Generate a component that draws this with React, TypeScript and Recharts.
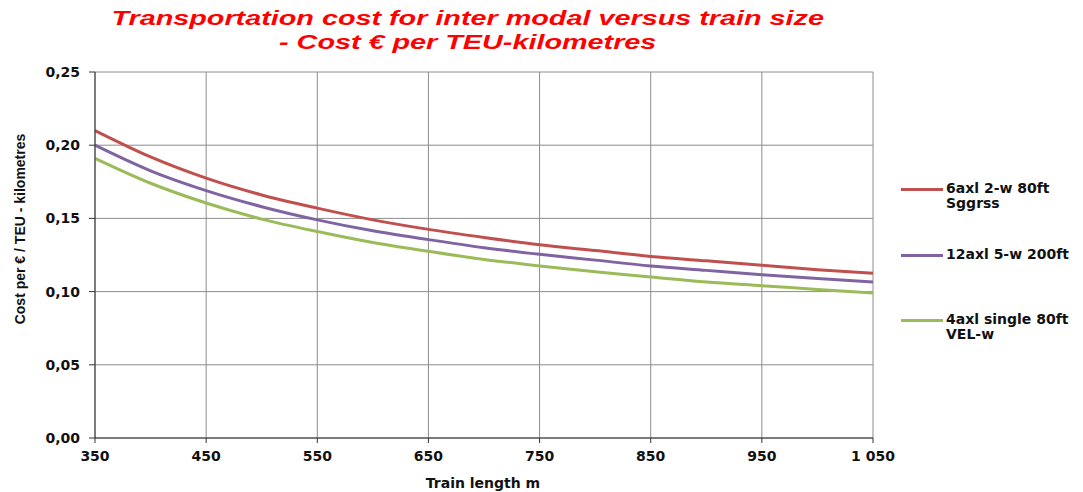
import React from 'react';
import { LineChart, Line, XAxis, YAxis, CartesianGrid, Legend } from 'recharts';

// train length (m)
const lengths = [350, 400, 450, 500, 550, 600, 650, 700, 750, 800, 850, 900, 950, 1000, 1050];

// cost € per TEU-km
const sggrss = [0.21, 0.192, 0.1775, 0.166, 0.157, 0.149, 0.1425, 0.137, 0.132, 0.128, 0.124, 0.121, 0.118, 0.115, 0.1125];
const axl12 = [0.2, 0.1825, 0.169, 0.158, 0.149, 0.1415, 0.1355, 0.13, 0.1255, 0.1215, 0.1175, 0.1145, 0.1115, 0.109, 0.1065];
const velw = [0.191, 0.174, 0.1605, 0.1495, 0.141, 0.1335, 0.1275, 0.122, 0.1175, 0.1135, 0.11, 0.1065, 0.104, 0.1015, 0.099];

const xTicks = [350, 450, 550, 650, 750, 850, 950, 1050];
const yTicks = [0, 0.05, 0.1, 0.15, 0.2, 0.25];

const seriesNames = ['6axl 2-w 80ft Sggrss', '12axl 5-w 200ft', '4axl single 80ft VEL-w'];
const colors = ['#C0504D', '#8064A2', '#9BBB59'];

const data = lengths.map((len, i) => ({
  len,
  a: sggrss[i],
  b: axl12[i],
  c: velw[i],
}));

const fmtX = (v: number) => (v >= 1000 ? `${Math.floor(v / 1000)} ${String(v % 1000).padStart(3, '0')}` : String(v));
const fmtY = (v: number) => v.toFixed(2).replace('.', ',');

const legendRows = [
  { lines: ['6axl 2-w 80ft', 'Sggrss'], color: colors[0], y: 189 },
  { lines: ['12axl 5-w 200ft'], color: colors[1], y: 255 },
  { lines: ['4axl single 80ft', 'VEL-w'], color: colors[2], y: 320 },
];

const LegendBox = () => (
  <div style={{ position: 'absolute', left: 0, top: 0 }}>
    {legendRows.map((r) => (
      <div key={r.lines[0]} style={{ position: 'absolute', left: 901, top: r.y - 8 }}>
        <div style={{ position: 'absolute', left: 0, top: 7, width: 42, height: 3, background: r.color }} />
        <div
          style={{
            position: 'absolute',
            left: 45,
            top: 0,
            whiteSpace: 'nowrap',
            fontFamily: 'DejaVu Sans',
            fontWeight: 'bold',
            fontSize: 14,
            lineHeight: '15px',
            color: '#111',
          }}
        >
          {r.lines.map((l) => (
            <div key={l}>{l}</div>
          ))}
        </div>
      </div>
    ))}
  </div>
);

const App = () => {
  return (
    <div style={{ position: 'absolute', left: 0, top: 0, width: 1083, height: 492, background: '#fff' }}>
      <LineChart width={1083} height={492} data={data} margin={{ top: 72, right: 210, bottom: 0, left: 0 }}>
        <CartesianGrid stroke="#8c8c8c" strokeWidth={1} />
        <XAxis
          dataKey="len"
          type="number"
          domain={[350, 1050]}
          ticks={xTicks}
          tickFormatter={fmtX}
          height={54}
          stroke="#333"
          tickSize={5}
          tickMargin={8}
          tick={{ fill: '#111', fontFamily: 'DejaVu Sans', fontWeight: 'bold', fontSize: 14 }}
        />
        <YAxis
          type="number"
          domain={[0, 0.25]}
          ticks={yTicks}
          tickFormatter={fmtY}
          width={95}
          stroke="#333"
          tickSize={6}
          tickMargin={9}
          tick={{ fill: '#111', fontFamily: 'DejaVu Sans', fontWeight: 'bold', fontSize: 14 }}
        />
        <Legend content={() => null} />
        <Line type="monotone" dataKey="a" name={seriesNames[0]} stroke={colors[0]} strokeWidth={3} dot={false} isAnimationActive={false} />
        <Line type="monotone" dataKey="b" name={seriesNames[1]} stroke={colors[1]} strokeWidth={3} dot={false} isAnimationActive={false} />
        <Line type="monotone" dataKey="c" name={seriesNames[2]} stroke={colors[2]} strokeWidth={3} dot={false} isAnimationActive={false} />
      </LineChart>

      <div
        style={{
          position: 'absolute',
          left: 0,
          top: 6,
          width: 935,
          textAlign: 'center',
          color: '#FF0000',
          fontFamily: 'Liberation Sans',
          fontWeight: 'bold',
          fontStyle: 'italic',
          fontSize: 21,
          lineHeight: '24px',
          transform: 'scaleX(1.37)',
          transformOrigin: '467px 0',
        }}
      >
        <div>Transportation cost for inter modal versus train size</div>
        <div>- Cost € per TEU-kilometres</div>
      </div>

      <div
        style={{
          position: 'absolute',
          left: 20,
          top: 229,
          transform: 'translate(-50%, -50%) rotate(-90deg)',
          whiteSpace: 'nowrap',
          fontFamily: 'Liberation Sans',
          fontWeight: 'bold',
          fontSize: 14,
          color: '#111',
        }}
      >
        Cost per € / TEU - kilometres
      </div>

      <div
        style={{
          position: 'absolute',
          left: 483,
          top: 483,
          transform: 'translate(-50%, -50%)',
          whiteSpace: 'nowrap',
          fontFamily: 'DejaVu Sans',
          fontWeight: 'bold',
          fontSize: 14,
          color: '#111',
        }}
      >
        Train length m
      </div>

      <LegendBox />
    </div>
  );
};

export default App;
